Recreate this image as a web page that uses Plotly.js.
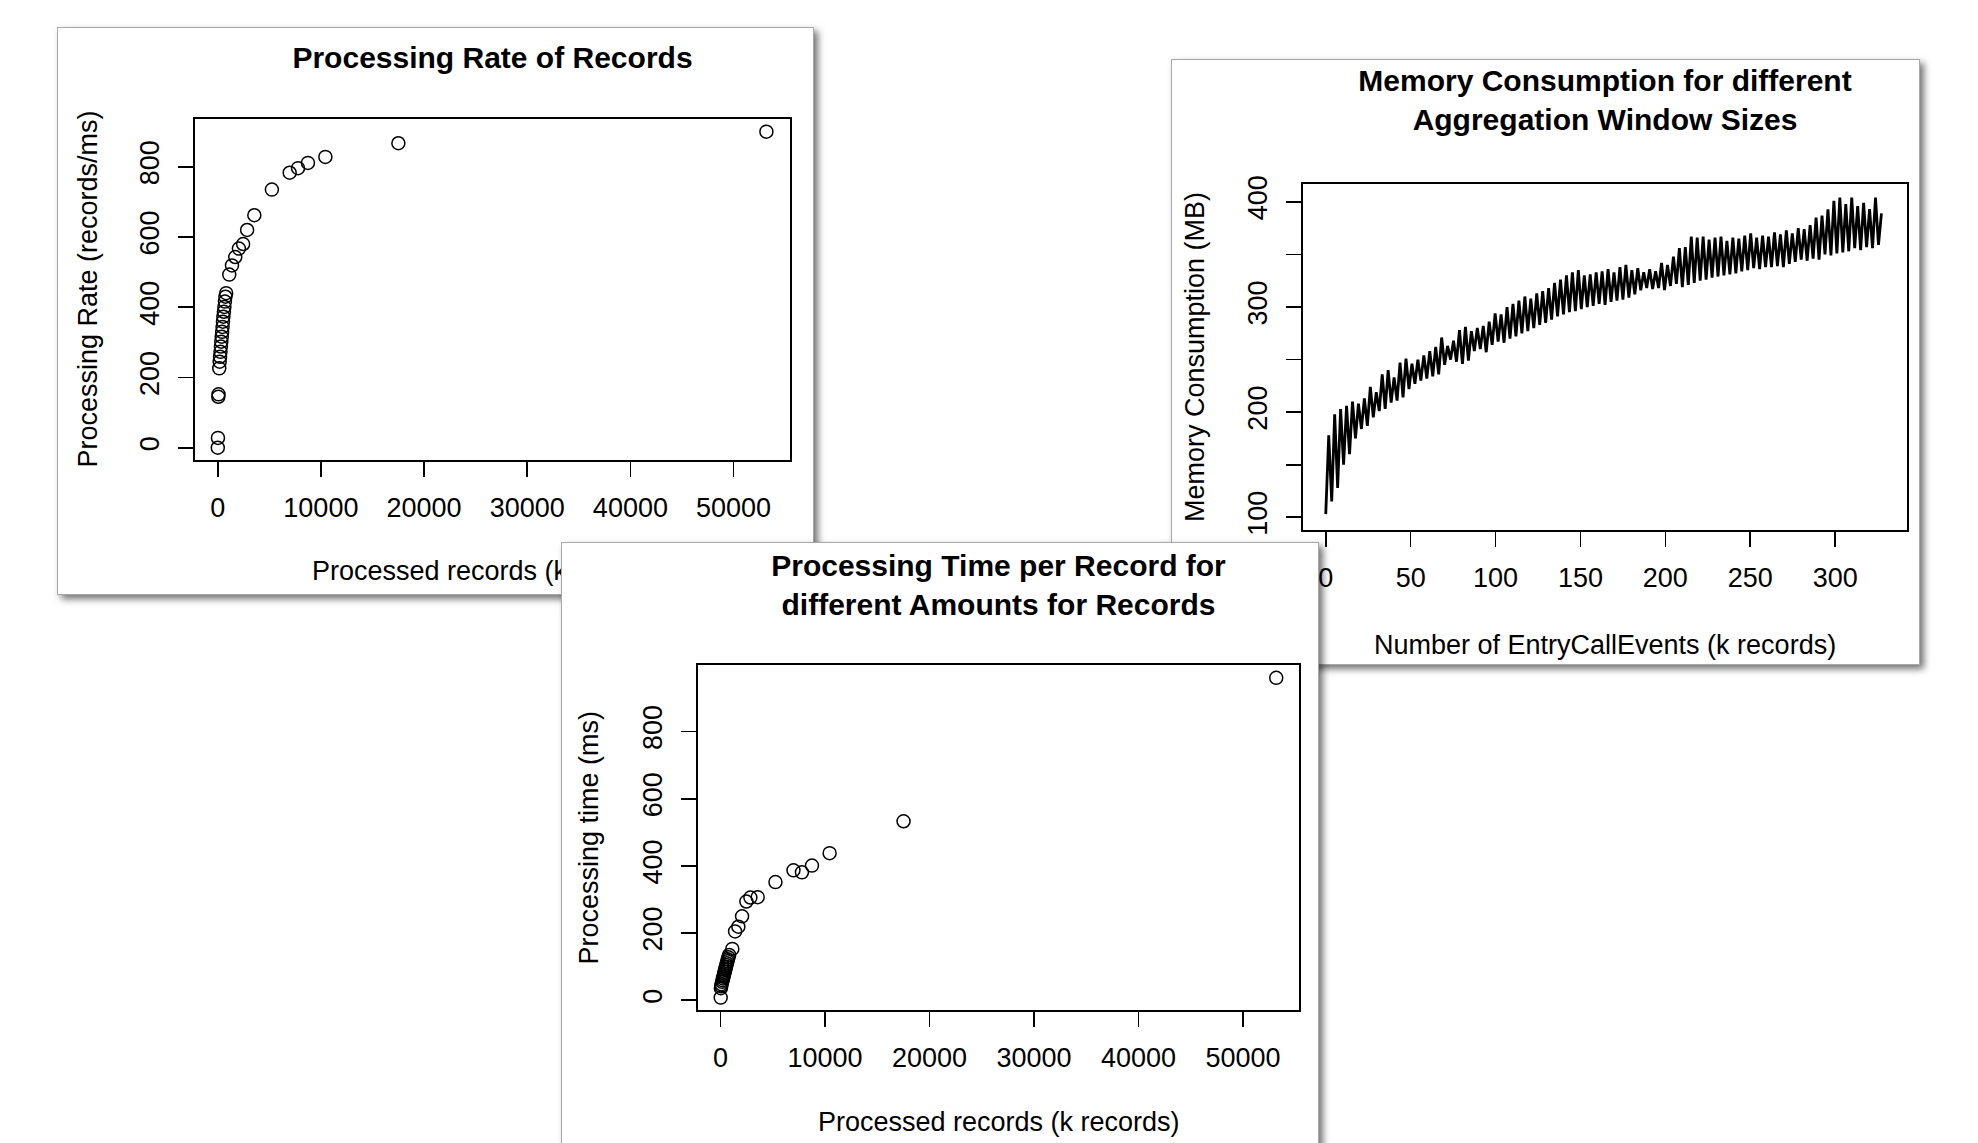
<!DOCTYPE html>
<html><head><meta charset="utf-8">
<script src="https://cdn.plot.ly/plotly-3.0.1.min.js"></script>
<style>
html,body{margin:0;padding:0;width:1978px;height:1143px;overflow:hidden;background:#fff;}
.panel{position:absolute;background:#fff;border:1px solid #a8a8a8;box-shadow:4px 4px 7px rgba(0,0,0,0.55);}
</style></head><body>
<div id="p1" class="panel" style="left:57px;top:27px;width:755px;height:566px;z-index:1"></div>
<div id="p2" class="panel" style="left:1171px;top:59px;width:747px;height:604px;z-index:2"></div>
<div id="p3" class="panel" style="left:561px;top:542px;width:756px;height:621px;z-index:3"></div>
<script>
// ---- data: processed records (k records) shared by rate and time charts
const recordsK = [10, 25, 60, 80, 150, 190, 230, 270, 310, 350, 390, 430, 470, 510, 550, 600, 650, 700, 750, 820,
  1120, 1385, 1700, 2055, 2465, 2850, 3550, 5250, 6975, 7785, 8745, 10435, 17510, 53180];
const rateRecPerMs = [0, 28, 145, 152, 226, 245, 259, 273, 288, 302, 316, 330, 344, 359, 373, 387, 401, 416, 430, 440,
  493, 519, 543, 567, 580, 620, 662, 735, 783, 796, 811, 828, 867, 900];
const timeMs = [8, 36, 42, 48, 55, 60, 65, 70, 75, 80, 85, 90, 95, 100, 105, 110, 116, 122, 128, 135,
  153, 205, 219, 250, 294, 306, 307, 352, 387, 381, 401, 438, 533, 960];

// ---- data: memory consumption vs number of EntryCallEvents (k records)
const memK = [0,1.75,3.5,5.25,7,8.75,10.5,12.25,14,15.75,17.5,19.25,21,22.75,24.5,26.25,28,29.75,31.5,33.25,
  35,36.75,38.5,40.25,42,43.75,45.5,47.25,49,50.75,52.5,54.25,56,57.75,59.5,61.25,63,64.75,66.5,68.25,
  70,71.75,73.5,75.25,77,78.75,80.5,82.25,84,85.75,87.5,89.25,91,92.75,94.5,96.25,98,99.75,101.5,103.25,
  105,106.75,108.5,110.25,112,113.75,115.5,117.25,119,120.75,122.5,124.25,126,127.75,129.5,131.25,133,134.75,136.5,138.25,
  140,141.75,143.5,145.25,147,148.75,150.5,152.25,154,155.75,157.5,159.25,161,162.75,164.5,166.25,168,169.75,171.5,173.25,
  175,176.75,178.5,180.25,182,183.75,185.5,187.25,189,190.75,192.5,194.25,196,197.75,199.5,201.25,203,204.75,206.5,208.25,
  210,211.75,213.5,215.25,217,218.75,220.5,222.25,224,225.75,227.5,229.25,231,232.75,234.5,236.25,238,239.75,241.5,243.25,
  245,246.75,248.5,250.25,252,253.75,255.5,257.25,259,260.75,262.5,264.25,266,267.75,269.5,271.25,273,274.75,276.5,278.25,
  280,281.75,283.5,285.25,287,288.75,290.5,292.25,294,295.75,297.5,299.25,301,302.75,304.5,306.25,308,309.75,311.5,313.25,
  315,316.75,318.5,320.25,322,323.75,325.5,327.25];
const memMB = [103,178,115,198,128,203,150,206,160,210,
  175,208,184,213,187,224,195,219,201,236,
  203,240,209,233,211,247,214,251,222,246,
  227,250,230,254,232,258,234,262,236,271,
  245,263,250,268,248,278,246,281,249,277,
  258,280,260,282,257,286,264,294,267,293,
  266,300,270,303,272,306,275,310,277,308,
  280,313,283,315,285,318,288,323,291,326,
  293,330,295,333,296,335,298,330,300,331,
  301,333,303,334,302,336,305,333,306,338,
  307,340,309,335,312,337,316,333,318,336,
  317,334,318,342,316,340,320,348,322,356,
  319,357,321,367,323,366,325,367,326,364,
  328,366,329,367,330,363,331,366,332,365,
  334,368,335,370,337,366,336,368,338,367,
  338,371,339,369,338,373,341,370,343,375,
  345,374,344,378,346,385,345,387,350,393,
  349,401,351,404,352,398,353,404,356,396,
  354,399,357,393,356,404,359,389];

// ---- tick labels
const recTicks = [0, 10000, 20000, 30000, 40000, 50000];
const recTickText = ['0', '10000', '20000', '30000', '40000', '50000'];
const y800Ticks = [0, 200, 400, 600, 800];
const y800TickText = ['0', '200', '400', '600', '800'];
const memXTicks = [0, 50, 100, 150, 200, 250, 300];
const memXTickText = ['0', '50', '100', '150', '200', '250', '300'];
const memYTicks = [100, 150, 200, 250, 300, 350, 400];
const memYTickText = ['100', '', '200', '', '300', '', '400'];

const FONT = 'Liberation Sans, Arial, Helvetica, sans-serif';

function ax(range, vals, text, isY) {
  return {
    range: range, tickmode: 'array', tickvals: vals, ticktext: text,
    ticks: 'outside', ticklen: 15, tickwidth: 1.6, tickcolor: '#000',
    showline: true, mirror: true, linecolor: '#000', linewidth: 1.6,
    showgrid: false, zeroline: false, fixedrange: true,
    tickfont: {family: FONT, size: 27, color: '#000'},
    tickangle: isY ? -90 : 0,
    ticklabelstandoff: isY ? 9 : 8
  };
}
function axTitles(xt, yt, xs, ys) {
  return [
    {text: xt, xref: 'paper', yref: 'paper', x: 0.5, y: 0, xanchor: 'center', yanchor: 'middle',
     yshift: xs, showarrow: false, font: {family: FONT, size: 27, color: '#000'}},
    {text: yt, xref: 'paper', yref: 'paper', x: 0, y: 0.5, xanchor: 'center', yanchor: 'middle',
     xshift: ys, textangle: -90, showarrow: false, font: {family: FONT, size: 27, color: '#000'}}
  ];
}
function baseLayout(w, h, m, title, ty, xa, ya, ann) {
  return {
    width: w, height: h, margin: m, paper_bgcolor: '#fff', plot_bgcolor: '#fff', showlegend: false,
    font: {family: FONT, color: '#000'},
    title: {text: title, x: 0.5, xref: 'paper', xanchor: 'center', y: ty, yref: 'container', yanchor: 'middle',
            font: {family: FONT, size: 30, color: '#000', weight: 'bold'}},
    xaxis: xa, yaxis: ya, annotations: ann
  };
}
const cfg = {staticPlot: true, displayModeBar: false};
const circ = {symbol: 'circle-open', size: 13, color: '#000', line: {width: 1.5, color: '#000'}};

// Panel 1: processing rate
Plotly.newPlot('p1', [{
  type: 'scatter', mode: 'markers', x: recordsK, y: rateRecPerMs, marker: circ, cliponaxis: false
}], baseLayout(755, 566, {l: 137, r: 23, t: 91, b: 134},
  '<b>Processing Rate of Records</b>', 1 - 29 / 566,
  ax([-2200, 55466], recTicks, recTickText, false),
  ax([-35, 936], y800Ticks, y800TickText, true),
  axTitles('Processed records (k records)', 'Processing Rate (records/ms)', -111, -108)), cfg);

// Panel 2: memory consumption
Plotly.newPlot('p2', [{
  type: 'scatter', mode: 'lines', x: memK, y: memMB, line: {color: '#000', width: 2.8}
}], baseLayout(747, 604, {l: 131, r: 12, t: 124, b: 134},
  '<b>Memory Consumption for different<br>Aggregation Window Sizes</b>', 1 - 31 / 604,
  ax([-13.4, 342.3], memXTicks, memXTickText, false),
  ax([87.9, 417], memYTicks, memYTickText, true),
  axTitles('Number of EntryCallEvents (k records)', 'Memory Consumption (MB)', -115, -108)), cfg);

// Panel 3: processing time
Plotly.newPlot('p3', [{
  type: 'scatter', mode: 'markers', x: recordsK, y: timeMs, marker: circ, cliponaxis: false
}], baseLayout(756, 621, {l: 136, r: 19, t: 122, b: 154},
  '<b>Processing Time per Record for<br>different Amounts for Records</b>', 1 - 32.5 / 621,
  ax([-2163, 55360], recTicks, recTickText, false),
  ax([-28.9, 998.3], y800Ticks, y800TickText, true),
  axTitles('Processed records (k records)', 'Processing time (ms)', -112, -110)), cfg);
</script>
</body></html>
